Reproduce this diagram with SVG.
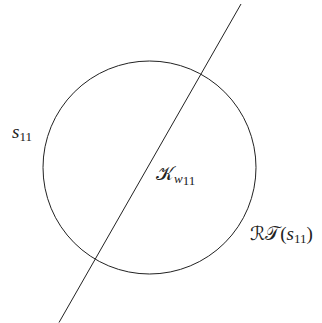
<svg xmlns="http://www.w3.org/2000/svg" width="322" height="323" viewBox="0 0 322 323">
<style>
.shape{fill:none;stroke:#222;stroke-width:1}
.lbl{font-family:"Liberation Serif","DejaVu Serif",serif;font-size:19px;fill:#222}
.it{font-style:italic}
.sub{font-size:13px}
.cal{font-family:"DejaVu Sans","Noto Sans",serif;font-style:normal}
</style>
<rect width="322" height="323" fill="#fff"/>
<g id="circle-node">
<circle class="shape" cx="149.5" cy="167.5" r="106.5"/>
</g>
<g id="connectors">
<line class="shape" x1="241" y1="4" x2="59" y2="322.5"/>
</g>
<g id="label-s11">
<text class="lbl" x="12" y="138"><tspan class="it">s</tspan><tspan class="sub" dy="3">11</tspan></text>
</g>
<g id="label-K">
<text class="lbl" x="156" y="180"><tspan class="cal">𝒦</tspan><tspan class="sub it" dy="3">w</tspan><tspan class="sub" dy="2" font-size="10">11</tspan></text>
</g>
<g id="label-RT">
<text class="lbl" x="250" y="240"><tspan class="cal">ℛ𝒯</tspan>(<tspan class="it">s</tspan><tspan class="sub" dy="3">11</tspan><tspan dy="-3">)</tspan></text>
</g>
</svg>
